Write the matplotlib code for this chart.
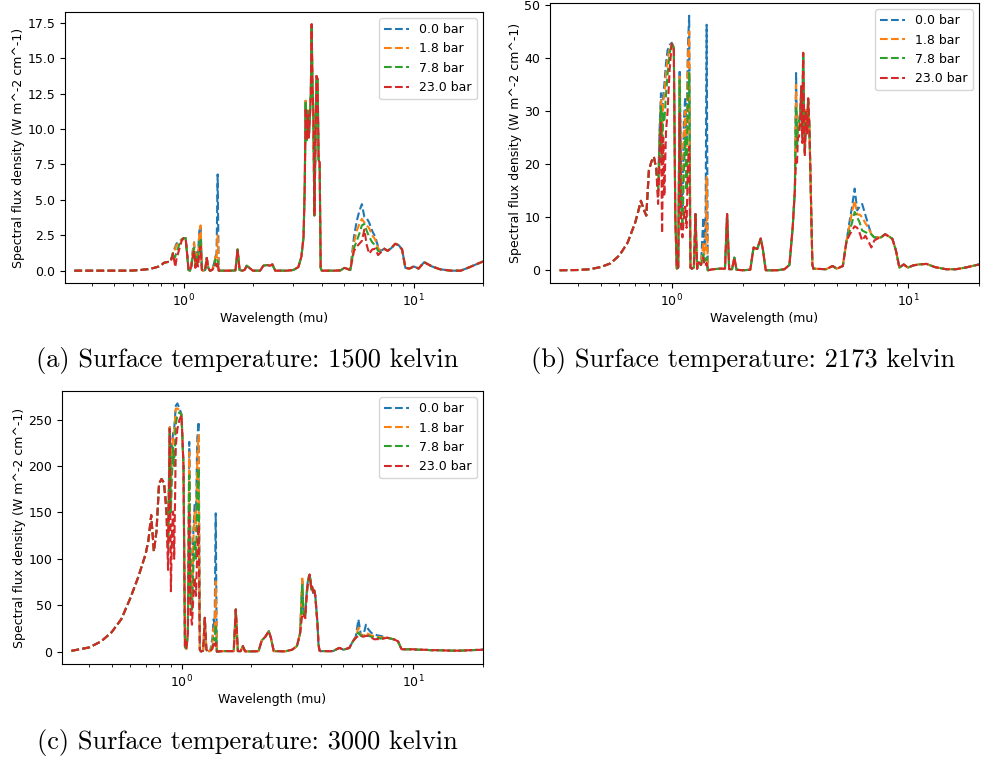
import matplotlib
matplotlib.use('Agg')
import matplotlib.pyplot as plt

# wavelength grid (micron)
lam = [
    0.335, 0.40, 0.45, 0.50, 0.55, 0.60, 0.65, 0.70, 0.72, 0.74,
    0.76, 0.78, 0.80, 0.82, 0.84, 0.86, 0.875, 0.89, 0.90, 0.91,
    0.92, 0.93, 0.945, 0.96, 0.98, 1.00, 1.02, 1.035, 1.05, 1.065,
    1.08, 1.095, 1.11, 1.125, 1.14, 1.155, 1.17, 1.185, 1.20, 1.215,
    1.24, 1.26, 1.28, 1.30, 1.33, 1.36, 1.375, 1.39, 1.405, 1.42,
    1.50, 1.60, 1.68, 1.715, 1.75, 1.80, 1.84, 1.88, 2.00, 2.15,
    2.22, 2.30, 2.38, 2.43, 2.50, 2.80, 3.00, 3.15, 3.25, 3.32,
    3.36, 3.39, 3.42, 3.46, 3.50, 3.54, 3.57, 3.60, 3.63, 3.66,
    3.70, 3.74, 3.78, 3.82, 3.86, 3.90, 3.94, 3.98, 4.50, 4.80,
    5.00, 5.30, 5.50, 5.65, 5.80, 5.95, 6.10, 6.25, 6.40, 6.60,
    6.80, 7.00, 7.20, 7.45, 7.70, 8.00, 8.30, 8.60, 8.90, 9.20,
    9.60, 10.0, 10.5, 11.1, 12.0, 13.0, 14.5, 16.0, 17.5, 20.0,
]

pressures = ['0.0 bar', '1.8 bar', '7.8 bar', '23.0 bar']

# (a) 1500 K
a_00 = [
    0, 0, 0, 0, 0, 0.01, 0.05, 0.11, 0.15, 0.19,
    0.24, 0.3, 0.4, 0.55, 0.6, 0.62, 0.65, 1.0, 1.3, 1.5,
    1.7, 1.9, 2.0, 2.1, 2.2, 2.3, 2.3, 1.2, 0.05, 0,
    0.3, 1.4, 2.0, 0.5, 1.3, 1.2, 2.8, 3.2, 0.05, 0,
    0.05, 0.9, 0.2, 0, 0.05, 0.6, 1.0, 1.2, 6.8, 0,
    0, 0, 0.02, 1.5, 0.05, 0, 0.05, 0.35, 0, 0,
    0.35, 0.4, 0.35, 0.45, 0, 0, 0.05, 0.25, 1.0, 2.4,
    6.0, 12.0, 9.2, 11.3, 9.4, 11.0, 12.5, 17.4, 13.0, 11.3,
    3.9, 9.0, 13.75, 13.5, 7.8, 7.65, 0.2, 0, 0, 0.02,
    0.2, 0.05, 2.4, 3.5, 4.2, 4.7, 3.8, 3.7, 3.4, 2.8,
    2.4, 1.7, 1.4, 1.55, 1.4, 1.6, 1.9, 1.8, 1.5, 0.2,
    0.15, 0.3, 0.15, 0.6, 0.3, 0.1, 0, 0, 0.25, 0.65,
]
a_18 = [
    0, 0, 0, 0, 0, 0.01, 0.05, 0.11, 0.15, 0.19,
    0.24, 0.3, 0.4, 0.55, 0.6, 0.62, 0.65, 1.0, 1.3, 1.3,
    1.6, 1.8, 1.9, 2.0, 2.2, 2.3, 2.3, 1.2, 0.05, 0,
    0.3, 1.3, 2.0, 0.4, 1.2, 1.0, 2.6, 3.2, 0.05, 0,
    0.05, 0.9, 0.2, 0, 0.05, 0.5, 1.0, 0.8, 2.5, 0,
    0, 0, 0.02, 1.5, 0.05, 0, 0.05, 0.35, 0, 0,
    0.35, 0.4, 0.35, 0.45, 0, 0, 0.05, 0.25, 1.0, 2.4,
    6.0, 12.0, 9.2, 11.3, 9.4, 11.0, 12.5, 17.4, 13.0, 11.3,
    3.9, 9.0, 13.75, 13.5, 7.8, 7.65, 0.2, 0, 0, 0.02,
    0.2, 0.05, 2.0, 2.8, 3.3, 3.66, 3.4, 3.2, 3.0, 2.5,
    2.2, 1.6, 1.35, 1.55, 1.4, 1.6, 1.9, 1.8, 1.5, 0.2,
    0.15, 0.3, 0.15, 0.6, 0.3, 0.1, 0, 0, 0.25, 0.65,
]
a_78 = [
    0, 0, 0, 0, 0, 0.01, 0.05, 0.11, 0.15, 0.19,
    0.24, 0.3, 0.4, 0.55, 0.6, 0.62, 0.65, 1.0, 1.3, 0.9,
    1.0, 1.3, 1.6, 1.9, 2.2, 2.3, 2.3, 1.2, 0.05, 0,
    0.3, 1.1, 1.6, 0.3, 1.0, 0.6, 1.8, 2.3, 0.05, 0,
    0.05, 0.9, 0.2, 0, 0.05, 0.4, 0.8, 0.6, 0.7, 0,
    0, 0, 0.02, 1.5, 0.05, 0, 0.05, 0.35, 0, 0,
    0.35, 0.4, 0.35, 0.45, 0, 0, 0.05, 0.25, 1.0, 2.4,
    6.0, 12.0, 9.2, 11.3, 9.4, 11.0, 12.5, 17.4, 13.0, 11.3,
    3.9, 9.0, 13.75, 13.5, 7.8, 7.65, 0.2, 0, 0, 0.02,
    0.2, 0.05, 1.6, 2.1, 2.6, 3.2, 3.3, 2.8, 2.4, 2.0,
    1.8, 1.4, 1.3, 1.55, 1.4, 1.6, 1.9, 1.8, 1.5, 0.2,
    0.15, 0.3, 0.15, 0.6, 0.3, 0.1, 0, 0, 0.25, 0.65,
]
a_230 = [
    0, 0, 0, 0, 0, 0.01, 0.05, 0.11, 0.15, 0.19,
    0.24, 0.3, 0.4, 0.55, 0.6, 0.62, 0.6, 0.9, 1.2, 0.7,
    0.25, 0.8, 1.2, 1.6, 2.1, 2.3, 2.3, 1.2, 0.05, 0,
    0.3, 1.0, 1.4, 0.2, 0.8, 0.3, 1.2, 1.7, 0.05, 0,
    0.05, 0.9, 0.2, 0, 0.05, 0.3, 0.5, 0.3, 0.6, 0,
    0, 0, 0.02, 1.5, 0.05, 0, 0.05, 0.35, 0, 0,
    0.35, 0.4, 0.35, 0.45, 0, 0, 0.05, 0.25, 1.0, 2.4,
    6.0, 11.5, 9.2, 11.0, 9.4, 11.0, 12.5, 17.4, 13.0, 11.3,
    3.9, 9.0, 13.75, 13.5, 7.8, 7.65, 0.2, 0, 0, 0.02,
    0.2, 0.05, 1.4, 1.7, 1.9, 2.1, 2.9, 1.8, 1.2, 1.5,
    1.55, 1.1, 1.3, 1.55, 1.4, 1.6, 1.9, 1.8, 1.5, 0.2,
    0.15, 0.3, 0.15, 0.6, 0.3, 0.1, 0, 0, 0.25, 0.65,
]

# (b) 2173 K
b_00 = [
    0.0, 0.05, 0.2, 0.6, 1.3, 2.8, 5.2, 9.0, 11.0, 13.1,
    11.5, 10.3, 18.8, 20.5, 21.4, 19.0, 15.5, 28.0, 33.4, 27.0,
    33.0, 35.0, 39.0, 41.5, 42.5, 42.9, 42.0, 10.0, 0.3, 0.5,
    37.8, 18.0, 11.3, 28.0, 32.7, 25.0, 42.0, 48.0, 0.5, 0.3,
    0.5, 10.6, 0.3, 1.5, 1.0, 10.0, 5.0, 8.0, 46.3, 0.0,
    0.2, 0.3, 0.3, 10.6, 0.2, 0.2, 2.4, 0.1, 0.0, 0.1,
    4.3, 4.0, 6.0, 4.0, 0.0, 0.0, 0.2, 1.0, 8.0, 15.0,
    37.2, 25.0, 27.0, 27.0, 30.0, 34.7, 26.0, 41.0, 30.0, 22.0,
    30.2, 25.8, 32.4, 28.0, 19.5, 10.0, 1.0, 0.3, 0.2, 0.8,
    0.3, 0.8, 5.6, 9.0, 12.0, 15.4, 11.3, 12.0, 12.5, 10.5,
    8.5, 6.8, 6.2, 6.2, 6.2, 6.8, 6.4, 5.9, 3.7, 0.5,
    1.1, 0.5, 0.9, 1.1, 1.2, 0.6, 0.2, 0.2, 0.5, 1.1,
]
b_18 = [
    0.0, 0.05, 0.2, 0.6, 1.3, 2.8, 5.2, 9.0, 11.0, 13.1,
    11.5, 10.3, 18.8, 20.5, 21.4, 19.0, 15.0, 27.0, 32.0, 25.0,
    32.0, 33.0, 37.0, 40.0, 42.0, 42.7, 42.0, 10.0, 0.3, 0.5,
    36.5, 15.0, 10.0, 25.0, 30.0, 22.0, 40.0, 45.0, 0.5, 0.3,
    0.5, 10.6, 0.3, 1.5, 1.0, 5.0, 3.0, 4.0, 17.6, 0.0,
    0.2, 0.3, 0.3, 10.6, 0.2, 0.2, 2.4, 0.1, 0.0, 0.1,
    4.3, 4.0, 6.0, 4.0, 0.0, 0.0, 0.2, 1.0, 8.0, 15.0,
    35.0, 24.0, 27.0, 27.0, 30.0, 34.7, 26.0, 41.0, 30.0, 22.0,
    30.2, 25.8, 32.4, 28.0, 19.5, 10.0, 1.0, 0.3, 0.2, 0.8,
    0.3, 0.8, 5.6, 8.2, 11.0, 13.1, 10.5, 10.5, 10.0, 8.9,
    8.0, 6.8, 6.2, 6.2, 6.2, 6.8, 6.4, 5.9, 3.7, 0.5,
    1.1, 0.5, 0.9, 1.1, 1.2, 0.6, 0.2, 0.2, 0.5, 1.1,
]
b_78 = [
    0.0, 0.05, 0.2, 0.6, 1.3, 2.8, 5.2, 9.0, 11.0, 13.1,
    11.5, 10.3, 18.8, 20.5, 21.4, 19.0, 14.0, 26.0, 31.0, 20.0,
    30.0, 28.0, 33.0, 37.0, 41.0, 42.7, 42.0, 10.0, 0.3, 0.5,
    35.9, 12.0, 8.0, 18.0, 25.0, 15.0, 33.0, 37.2, 0.5, 0.3,
    0.5, 10.6, 0.3, 1.5, 1.0, 3.0, 1.5, 2.0, 2.4, 0.0,
    0.2, 0.3, 0.3, 10.6, 0.2, 0.2, 2.4, 0.1, 0.0, 0.1,
    4.3, 4.0, 6.0, 4.0, 0.0, 0.0, 0.2, 1.0, 8.0, 15.0,
    31.0, 23.0, 27.0, 28.0, 30.0, 34.7, 26.0, 41.0, 30.0, 22.0,
    30.2, 25.8, 32.4, 28.0, 19.5, 10.0, 1.0, 0.3, 0.2, 0.8,
    0.3, 0.8, 5.6, 7.2, 9.0, 11.0, 10.0, 9.0, 7.5, 7.2,
    6.9, 6.8, 6.2, 6.2, 6.2, 6.8, 6.4, 5.9, 3.7, 0.5,
    1.1, 0.5, 0.9, 1.1, 1.2, 0.6, 0.2, 0.2, 0.5, 1.1,
]
b_230 = [
    0.0, 0.05, 0.2, 0.6, 1.3, 2.8, 5.2, 9.0, 11.0, 13.1,
    11.5, 10.3, 18.8, 20.5, 21.4, 19.0, 12.5, 22.0, 28.0, 7.0,
    25.0, 14.0, 26.0, 30.0, 38.0, 42.7, 42.0, 10.0, 0.3, 0.5,
    29.6, 8.0, 6.2, 10.0, 12.0, 8.0, 20.0, 23.3, 0.5, 0.3,
    0.5, 10.6, 0.3, 1.5, 1.0, 2.4, 1.0, 0.8, 1.4, 0.0,
    0.2, 0.3, 0.3, 10.6, 0.2, 0.2, 2.4, 0.1, 0.0, 0.1,
    4.3, 4.0, 6.0, 4.0, 0.0, 0.0, 0.2, 1.0, 8.0, 15.0,
    21.0, 20.0, 25.0, 25.2, 28.0, 34.7, 24.0, 41.0, 30.0, 21.5,
    30.2, 25.8, 32.4, 28.0, 19.5, 10.0, 1.0, 0.3, 0.2, 0.8,
    0.3, 0.8, 5.6, 6.6, 7.5, 8.3, 8.0, 7.0, 5.6, 6.5,
    5.5, 4.3, 5.6, 6.0, 6.2, 6.8, 6.4, 5.9, 3.7, 0.5,
    1.1, 0.5, 0.9, 1.1, 1.2, 0.6, 0.2, 0.2, 0.5, 1.1,
]

# (c) 3000 K
c_00 = [
    0.8, 4.5, 11.0, 21.0, 35.0, 57.0, 80.0, 105.0, 120.0, 147.0,
    108.0, 130.0, 181.0, 186.0, 182.0, 160.0, 125.0, 242.0, 190.0, 225.0,
    235.0, 240.0, 265.0, 267.5, 262.0, 256.0, 200.0, 5.0, 3.0, 20.0,
    226.0, 90.0, 60.0, 130.0, 160.0, 150.0, 230.0, 247.7, 2.0, 0.0,
    1.0, 36.5, 2.0, 0.5, 0.5, 15.0, 34.7, 30.0, 149.0, 0.0,
    0.5, 0.5, 0.5, 45.4, 0.5, 0.5, 6.0, 0.3, 0.2, 0.5,
    12.0, 16.0, 22.0, 15.0, 0.5, 0.3, 2.0, 6.0, 20.0, 78.0,
    40.0, 42.0, 38.0, 60.0, 74.0, 80.0, 83.0, 78.0, 67.0, 70.0,
    63.0, 66.0, 60.0, 45.0, 31.0, 8.0, 1.0, 0.5, 0.5, 4.0,
    2.0, 4.0, 11.4, 16.0, 34.7, 17.0, 18.0, 29.0, 24.0, 20.0,
    18.6, 17.5, 17.0, 16.0, 15.0, 14.0, 13.0, 11.0, 2.5, 2.5,
    2.5, 2.5, 2.0, 2.0, 1.5, 1.5, 1.0, 1.0, 1.5, 2.0,
]
c_18 = [
    0.8, 4.5, 11.0, 21.0, 35.0, 57.0, 80.0, 105.0, 120.0, 147.0,
    108.0, 130.0, 181.0, 186.0, 182.0, 158.0, 120.0, 242.0, 180.0, 215.0,
    230.0, 235.0, 262.0, 262.0, 260.0, 255.0, 200.0, 5.0, 3.0, 20.0,
    215.0, 80.0, 55.0, 120.0, 150.0, 130.0, 210.0, 233.4, 2.0, 0.0,
    1.0, 36.5, 2.0, 0.5, 0.5, 10.0, 25.0, 20.0, 75.8, 0.0,
    0.5, 0.5, 0.5, 45.4, 0.5, 0.5, 6.0, 0.3, 0.2, 0.5,
    12.0, 16.0, 22.0, 15.0, 0.5, 0.3, 2.0, 6.0, 20.0, 81.0,
    40.0, 42.0, 38.0, 60.0, 74.0, 80.0, 83.0, 78.0, 67.0, 70.0,
    63.0, 66.0, 60.0, 45.0, 31.0, 8.0, 1.0, 0.5, 0.5, 4.0,
    2.0, 4.0, 11.4, 15.0, 25.8, 17.0, 17.0, 20.4, 19.0, 17.0,
    17.0, 16.0, 15.5, 15.0, 15.0, 14.0, 13.0, 11.0, 2.5, 2.5,
    2.5, 2.5, 2.0, 2.0, 1.5, 1.5, 1.0, 1.0, 1.5, 2.0,
]
c_78 = [
    0.8, 4.5, 11.0, 21.0, 35.0, 57.0, 80.0, 105.0, 120.0, 147.0,
    108.0, 130.0, 181.0, 186.0, 182.0, 155.0, 110.0, 242.0, 150.0, 190.0,
    220.0, 200.0, 245.0, 255.0, 258.0, 255.0, 200.0, 5.0, 3.0, 20.0,
    190.0, 60.0, 45.0, 90.0, 120.0, 100.0, 170.0, 197.6, 2.0, 0.0,
    1.0, 36.5, 2.0, 0.5, 0.5, 5.0, 15.0, 12.0, 29.0, 0.0,
    0.5, 0.5, 0.5, 45.4, 0.5, 0.5, 6.0, 0.3, 0.2, 0.5,
    12.0, 16.0, 22.0, 15.0, 0.5, 0.3, 2.0, 6.0, 20.0, 72.0,
    40.0, 42.0, 38.0, 60.0, 74.0, 80.0, 83.0, 78.0, 67.0, 70.0,
    63.0, 66.0, 60.0, 45.0, 31.0, 8.0, 1.0, 0.5, 0.5, 4.0,
    2.0, 4.0, 11.4, 15.0, 20.4, 16.8, 16.5, 17.0, 17.0, 16.0,
    15.0, 15.0, 14.0, 14.5, 15.0, 14.0, 13.0, 11.0, 2.5, 2.5,
    2.5, 2.5, 2.0, 2.0, 1.5, 1.5, 1.0, 1.0, 1.5, 2.0,
]
c_230 = [
    0.8, 4.5, 11.0, 21.0, 35.0, 57.0, 80.0, 105.0, 120.0, 147.0,
    108.0, 130.0, 181.0, 186.0, 182.0, 150.0, 88.0, 240.0, 65.0, 130.0,
    151.0, 100.0, 222.0, 240.0, 250.0, 255.0, 200.0, 5.0, 3.0, 20.0,
    150.0, 40.0, 29.0, 60.0, 80.0, 60.0, 110.0, 136.7, 2.0, 0.0,
    1.0, 36.5, 2.0, 0.5, 0.5, 3.0, 8.0, 5.0, 9.7, 0.0,
    0.5, 0.5, 0.5, 45.4, 0.5, 0.5, 6.0, 0.3, 0.2, 0.5,
    12.0, 16.0, 22.0, 15.0, 0.5, 0.3, 2.0, 6.0, 20.0, 40.0,
    38.0, 40.0, 36.0, 55.0, 70.0, 78.0, 83.0, 78.0, 67.0, 70.0,
    63.0, 66.0, 60.0, 45.0, 31.0, 8.0, 1.0, 0.5, 0.5, 4.0,
    2.0, 4.0, 11.4, 15.0, 16.8, 16.8, 16.0, 17.0, 17.0, 15.0,
    13.2, 13.5, 13.0, 14.0, 15.0, 14.0, 13.0, 11.0, 2.5, 2.5,
    2.5, 2.5, 2.0, 2.0, 1.5, 1.5, 1.0, 1.0, 1.5, 2.0,
]

W, H = 981, 761
fig = plt.figure(figsize=(W / 100, H / 100), dpi=100)


def add_ax(left, top, right, bottom):
    # pixel box -> figure fraction
    return fig.add_axes([left / W, 1 - bottom / H, (right - left) / W, (bottom - top) / H])


panels = [
    (add_ax(65, 12, 483, 283), [a_00, a_18, a_78, a_230],
     '(a) Surface temperature: 1500 kelvin', 247, 360),
    (add_ax(550, 3, 979, 283), [b_00, b_18, b_78, b_230],
     '(b) Surface temperature: 2173 kelvin', 743, 360),
    (add_ax(62, 391, 483, 664), [c_00, c_18, c_78, c_230],
     '(c) Surface temperature: 3000 kelvin', 247, 743),
]

for ax, series, caption, cx, cy in panels:
    for s, lab in zip(series, pressures):
        ax.plot(lam, s, '--', label=lab)
    ax.set_xscale('log')
    ax.set_xlim(0.305, 20)
    ax.set_xlabel('Wavelength (mu)', fontsize=9, labelpad=2)
    ax.set_ylabel('Spectral flux density (W m^-2 cm^-1)', fontsize=9, labelpad=2)
    ax.tick_params(labelsize=9)
    ax.legend(fontsize=9, loc='upper right')
    fig.text(cx / W, 1 - cy / H, caption, family='cmr10', fontsize=19,
             ha='center', va='center')

fig.savefig('out.png', dpi=100)
